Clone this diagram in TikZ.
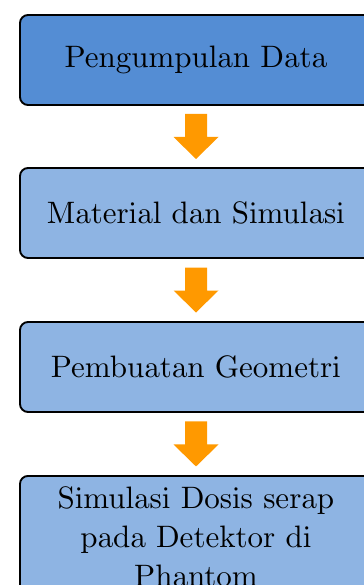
\documentclass[tikz,border=0pt]{standalone}
\usetikzlibrary{calc}
\definecolor{boxdark}{RGB}{84,141,212}
\definecolor{boxlight}{RGB}{142,180,227}
\definecolor{arroworange}{RGB}{255,153,0}
\font\stagefont=cmr10 at 12.4pt
\newcommand{\stagetext}{\stagefont\baselineskip=15.6pt\relax}
\tikzset{
  stagebox/.style={draw=black, line width=0.75pt, rounded corners=3.2pt,
    minimum width=140.8pt, minimum height=36pt, inner sep=0pt,
    align=center, font=\stagetext},
  flowarrow/.style={fill=arroworange, draw=none}
}
% block arrow pointing down, centred on the given coordinate
\newcommand{\blockarrow}[1]{%
  \fill[flowarrow] ([shift={(-11,-22.5)}]#1) -- ([shift={(11,-22.5)}]#1)
    -- ([shift={(11,0.5)}]#1) -- ([shift={(22.5,0.5)}]#1)
    -- ([shift={(0,22.5)}]#1) -- ([shift={(-22.5,0.5)}]#1)
    -- ([shift={(-11,0.5)}]#1) -- cycle;}
\begin{document}
\begin{tikzpicture}[x=0.4pt, y=-0.4pt]
  \useasboundingbox (0,0) rectangle (364,585);
  \clip (0,0) rectangle (364,585);
  % process stages
  \node[stagebox, fill=boxdark]  (data) at (196,60)  {Pengumpulan Data};
  \node[stagebox, fill=boxlight] (sim)  at (196,213) {Material dan Simulasi};
  \node[stagebox, fill=boxlight] (geo)  at (196,367) {Pembuatan Geometri};
  \node[stagebox, fill=boxlight, anchor=north, inner ysep=4.4pt,
        minimum height=0pt] (dose) at (196,475)
        {Simulasi Dosis serap\\pada Detektor di\\Phantom};
  % orange block arrows between consecutive stages
  \coordinate (a1) at ($(data.south)!0.5!(sim.north)$);
  \coordinate (a2) at ($(sim.south)!0.5!(geo.north)$);
  \coordinate (a3) at ($(geo.south)!0.5!(dose.north)$);
  \blockarrow{a1}
  \blockarrow{a2}
  \blockarrow{a3}
\end{tikzpicture}
\end{document}
